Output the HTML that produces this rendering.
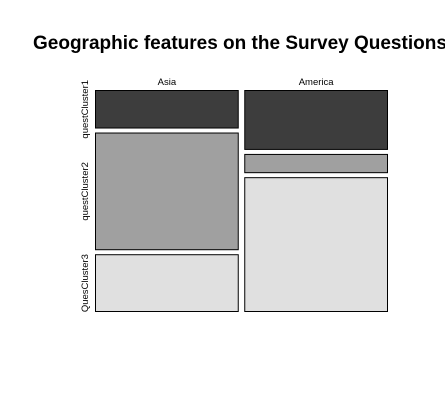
<!DOCTYPE html>
<html><head><meta charset="utf-8"><style>
html,body{margin:0;padding:0;background:#fff;overflow:hidden}
svg{display:block;font-family:"Liberation Sans",Arial,sans-serif}
</style></head><body>
<svg id="chart" width="445" height="412">
<text x="33" y="49" font-size="19" font-weight="bold" fill="#000">Geographic features on the Survey Questions</text>
<g id="marks"></g>
</svg>
<script>
const regions = ["Asia", "America"];
const clusters = ["questCluster1", "questCluster2", "QuesCluster3"];
const asiaCounts = [18, 55, 27];
const americaCounts = [28, 9, 63];
const counts = [asiaCounts, americaCounts];
const fills = ["#3d3d3d", "#a0a0a0", "#e0e0e0"];

const ns = "http://www.w3.org/2000/svg";
const g = document.getElementById("marks");
const plotLeft = 95, plotRight = 388, plotTop = 90, plotBottom = 312, gap = 5.5, vgap = 4;
const totals = counts.map(c => c.reduce((a, b) => a + b, 0));
const grand = totals.reduce((a, b) => a + b, 0);
const colW = (plotRight - plotLeft - gap * (regions.length - 1));
function xScale(i) {
  let x = plotLeft;
  for (let k = 0; k < i; k++) x += colW * totals[k] / grand + gap;
  return x;
}
const usableH = (plotBottom - plotTop) - vgap * (clusters.length - 1);
regions.forEach((r, i) => {
  const x = xScale(i), w = colW * totals[i] / grand;
  const t = document.createElementNS(ns, "text");
  t.setAttribute("x", x + w / 2); t.setAttribute("y", 85);
  t.setAttribute("text-anchor", "middle"); t.setAttribute("font-size", "9.5");
  t.textContent = r;
  
  
  g.appendChild(t);
  let y = plotTop;
  counts[i].forEach((v, j) => {
    const h = usableH * v / totals[i];
    const rect = document.createElementNS(ns, "rect");
    rect.setAttribute("x", x + 0.5); rect.setAttribute("y", y + 0.5);
    rect.setAttribute("width", w - 1); rect.setAttribute("height", h - 1);
    rect.setAttribute("fill", fills[j]); rect.setAttribute("stroke", "#000");
    rect.setAttribute("stroke-width", "1");
    
    
    g.appendChild(rect);
    if (i === 0) {
      const lt = document.createElementNS(ns, "text");
      const cy = y + h / 2;
      lt.setAttribute("transform", "translate(88," + cy + ") rotate(-90)");
      lt.setAttribute("text-anchor", "middle"); lt.setAttribute("font-size", "9.5");
      lt.textContent = clusters[j];
      
      
      g.appendChild(lt);
    }
    y += h + vgap;
  });
});
</script>
</body></html>
